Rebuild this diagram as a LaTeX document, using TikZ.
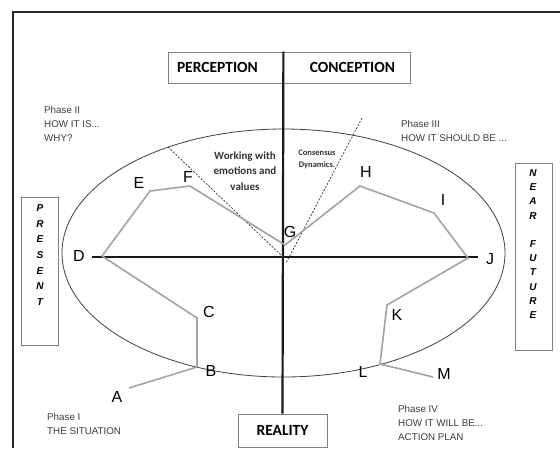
\documentclass[tikz,border=0pt]{standalone}
\usepackage{fontspec}
\setmainfont{Liberation Sans}
\newfontfamily\calibri{Carlito}
\usepackage{tikz}
\usetikzlibrary{positioning}
\usetikzlibrary{calc}
\definecolor{linegray}{HTML}{A3A3A3}
\definecolor{boxgray}{HTML}{808080}
\definecolor{textgray}{HTML}{3C3C3C}
\tikzstyle{letter}=[inner sep=0pt, text=black, font=\fontsize{16}{16}\selectfont]
\tikzstyle{titlebox}=[draw=boxgray, line width=0.8pt, inner ysep=0pt, font=\calibri\bfseries\fontsize{15.5}{15.5}\selectfont]
\tikzstyle{phase}=[align=left, anchor=north west, inner sep=0pt, text=textgray, font=\fontsize{9.8}{14}\selectfont]
\tikzstyle{sidebox}=[draw=boxgray, line width=0.8pt, minimum width=37pt]
\tikzstyle{sideword}=[align=center, inner sep=0pt, font=\bfseries\itshape\fontsize{10}{15.7}\selectfont]
\tikzstyle{note}=[align=center, inner sep=0pt, text=black!80, font=\calibri\bfseries\fontsize{11}{15.5}\selectfont]
\tikzstyle{pathline}=[draw=linegray, line width=1.6pt]
\tikzstyle{axisline}=[line width=2.2pt, black!90]
\tikzstyle{sector}=[line width=0.7pt, dash pattern=on 2pt off 1.5pt, black!80]

\begin{document}
\begin{tikzpicture}[x=1pt, y=-1pt]

   \useasboundingbox (0,0) rectangle (560,448);
   \fill[white] (0,0) rectangle (560,448);

   % frame (only top and left sides show)
   \coordinate (frameright) at (560,12);
   \coordinate (framecorner) at (13,12);
   \coordinate (framebottom) at (13,448);
   \draw[line width=2pt, black!85] (frameright) -- (framecorner) -- (framebottom);

   \node[titlebox, minimum width=115pt, minimum height=31pt, text width=97pt, inner xsep=9pt, align=left] (perception) at (225.5,67.5) {PERCEPTION};
   \node[titlebox, minimum width=127pt, minimum height=31pt, text width=97pt, inner xsep=15pt, align=right] (conception) at (346.5,67.5) {CONCEPTION};
   \node[titlebox, minimum width=89pt, minimum height=33pt, inner xsep=0pt] (reality) at (282.5,430.5) {REALITY};

   \draw[draw=black!75, line width=0.8pt] (283.5,253) ellipse [x radius=221.5pt, y radius=124pt];

   \node[sidebox, minimum height=148pt] (presentbox) at (39.5,271) {};
   \node[sidebox, minimum height=187pt] (futurebox) at (533.5,256.5) {};
   \node[sideword] (present) at (40,255) {P\\R\\E\\S\\E\\N\\T};
   \node[sideword, font=\bfseries\itshape\fontsize{10}{14.2}\selectfont] (future) at (533,244) {N\\E\\A\\R\\[14.2pt]F\\U\\T\\U\\R\\E};

   % axes
   \coordinate (west) at (92,257);
   \coordinate (east) at (478,257);
   \draw[axisline] (perception.north east) -- (reality.north);
   \draw[axisline] (west) -- (east);

   % dashed sectors
   \coordinate (lefttop) at (168,147);
   \coordinate (leftend) at (283,257);
   \coordinate (righttop) at (362,118);
   \coordinate (rightend) at (286,263);
   \draw[sector] (lefttop) -- (leftend);
   \draw[sector] (righttop) -- (rightend);

   % gray path through the phases
   \coordinate (cA) at (129,388);
   \coordinate (cB) at (197,367);
   \coordinate (cC) at (197,318);
   \coordinate (cD) at (102,256);
   \coordinate (cE) at (150,191);
   \coordinate (cF) at (190,186);
   \coordinate (cG) at (285,245);
   \coordinate (cH) at (360,186);
   \coordinate (cI) at (434,213);
   \coordinate (cJ) at (468,258);
   \coordinate (cK) at (387,305);
   \coordinate (cL) at (380,364);
   \coordinate (cM) at (433,377);
   \draw[pathline] (cA) -- (cB) -- (cC) -- (cD) -- (cE) -- (cF) -- (cG) -- (cH) -- (cI) -- (cJ) -- (cK) -- (cL) -- (cM);

   \foreach \pos/\name in {{(117,397)/A}, {(211,371)/B}, {(209,312)/C}, {(79,256)/D}, {(139,183)/E}, {(188,177)/F}, {(290,232)/G}, {(366,172)/H}, {(443,200)/I}, {(490,259)/J}, {(397,315)/K}, {(363,372)/L}, {(444,374)/M}}
        \node[letter] (\name) at \pos {\name};

   \node[note] (emotions) at (245,171) {Working with\\emotions and\\values};
   \node[note, font=\calibri\bfseries\fontsize{8.5}{12}\selectfont] (consensus) at (317,159) {Consensus\\Dynamics.};

   \node[phase] (phasetwo) at (44,106) {Phase II\\HOW IT IS...\\WHY?};
   \node[phase] (phasethree) at (401,120.5) {Phase III\\HOW IT SHOULD BE ...};
   \node[phase] (phaseone) at (47,413.5) {Phase I\\THE SITUATION};
   \node[phase] (phasefour) at (398,405.5) {Phase IV\\HOW IT WILL BE...\\ACTION PLAN};

\end{tikzpicture}
\end{document}
